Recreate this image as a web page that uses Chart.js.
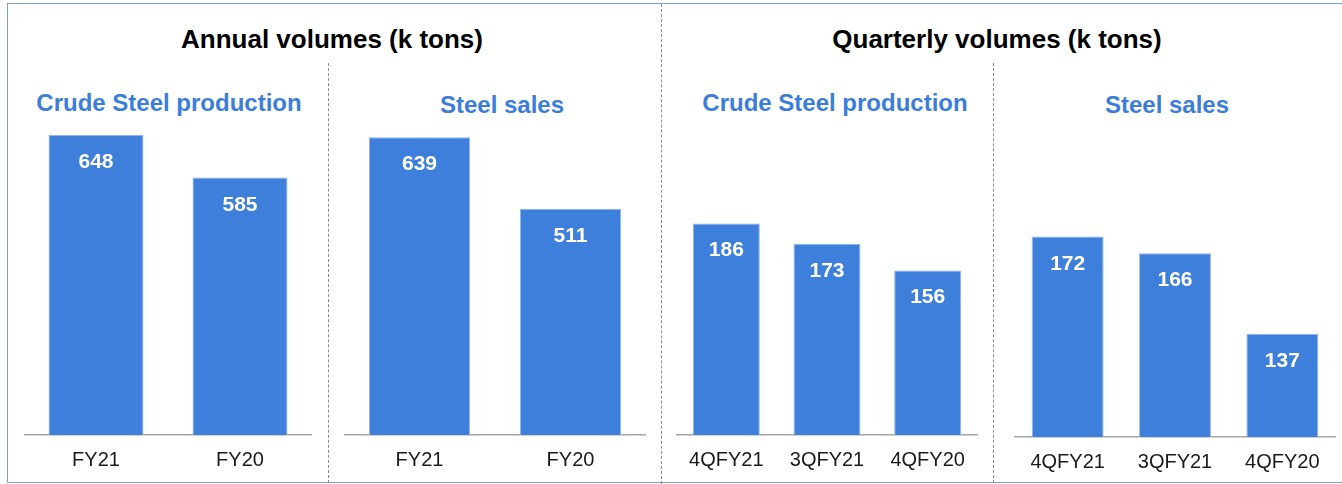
<!DOCTYPE html>
<html>
<head>
<meta charset="utf-8">
<script src="https://cdn.jsdelivr.net/npm/chart.js@4"></script>
<style>
    body { margin: 0; background: #fff; width: 1342px; height: 484px; overflow: hidden; position: relative; font-family: "Liberation Sans", Arial, sans-serif; }
    .box { position: absolute; left: 7px; top: 3px; width: 1350px; height: 478px; border: 1.5px solid #76a0e2; }
    .vline { position: absolute; width: 0; border-left: 1px dashed #8c8c8c; }
    .title { position: absolute; font-weight: bold; font-size: 26px; line-height: 26px; color: #000; text-align: center; white-space: nowrap; }
    .sub { position: absolute; font-weight: bold; font-size: 24px; line-height: 24px; color: #3b7ddb; text-align: center; white-space: nowrap; }
    canvas { position: absolute; }
</style>
</head>
<body>
<div class="box"></div>
<div class="vline" style="left:661px; top:4px; height:480px;"></div>
<div class="vline" style="left:328px; top:63px; height:420px;"></div>
<div class="vline" style="left:993px; top:63px; height:420px;"></div>

<div class="title" style="left:132px; width:400px; top:26px;">Annual volumes (k tons)</div>
<div class="title" style="left:797px; width:400px; top:26px;">Quarterly volumes (k tons)</div>
<div class="sub" style="left:19px; width:300px; top:91px;">Crude Steel production</div>
<div class="sub" style="left:352px; width:300px; top:93px;">Steel sales</div>
<div class="sub" style="left:685px; width:300px; top:91px;">Crude Steel production</div>
<div class="sub" style="left:1017px; width:300px; top:93px;">Steel sales</div>

<canvas id="c1" width="288" height="359" style="left:24px; top:120px;"></canvas>
<canvas id="c2" width="302" height="359" style="left:344px; top:120px;"></canvas>
<canvas id="c3" width="302" height="359" style="left:676px; top:120px;"></canvas>
<canvas id="c4" width="322" height="361" style="left:1014px; top:120px;"></canvas>

<script>
// data
var annualLabels = ['FY21', 'FY20'];
var annualCrude = [648, 585];
var annualSales = [639, 511];
var quarterLabels = ['4QFY21', '3QFY21', '4QFY20'];
var quarterCrude = [186, 173, 156];
var quarterSales = [172, 166, 137];

var barColor = '#3e7fdb';
Chart.defaults.font.family = '"Liberation Sans", Arial, sans-serif';

// white value labels inside the top of each bar
var valueLabels = {
    id: 'valueLabels',
    afterDatasetsDraw: function (chart) {
        var ctx = chart.ctx;
        var ds = chart.data.datasets[0];
        ctx.save();
        ctx.fillStyle = '#fff';
        ctx.font = 'bold 21px "Liberation Sans", Arial, sans-serif';
        ctx.textAlign = 'center';
        ctx.textBaseline = 'alphabetic';
        chart.getDatasetMeta(0).data.forEach(function (bar, i) {
            ctx.fillText(ds.data[i], bar.x, bar.y + 33);
        });
        ctx.restore();
    }
};

function makeChart(id, labels, values, yMin, yMax, barPct) {
    return new Chart(document.getElementById(id), {
        type: 'bar',
        plugins: [valueLabels],
        data: {
            labels: labels,
            datasets: [{
                data: values,
                backgroundColor: barColor,
                borderColor: '#8fb4ec',
                borderWidth: 1,
                barPercentage: barPct,
                categoryPercentage: 1
            }]
        },
        options: {
            responsive: false,
            devicePixelRatio: 1,
            animation: false,
            layout: { padding: 0 },
            plugins: { legend: { display: false }, tooltip: { enabled: false } },
            scales: {
                x: {
                    grid: { display: false },
                    border: { color: '#a6a6a6', width: 1.5 },
                    ticks: { color: '#1a1a1a', font: { size: 20 }, padding: 5 },
                    afterFit: function (scale) { scale.height = 44; }
                },
                y: { display: false, min: yMin, max: yMax }
            }
        }
    });
}

makeChart('c1', annualLabels, annualCrude, 205, 670, 0.66);
makeChart('c2', annualLabels, annualSales, 105, 670, 0.67);
makeChart('c3', quarterLabels, quarterCrude, 51, 252, 0.665);
makeChart('c4', quarterLabels, quarterSales, 100, 213.9, 0.67);
</script>
</body>
</html>
